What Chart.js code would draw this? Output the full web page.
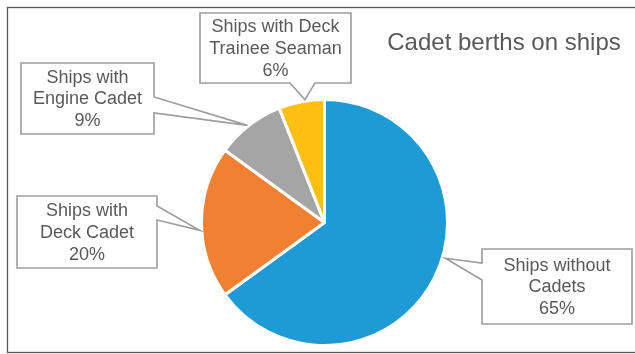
<!DOCTYPE html>
<html>
<head>
<meta charset="utf-8">
<script src="https://cdn.jsdelivr.net/npm/chart.js@4/dist/chart.umd.min.js"></script>
<style>
  html, body { margin: 0; padding: 0; background: #fff; }
  #wrap { width: 635px; height: 354px; position: relative; }
</style>
</head>
<body>
<div id="wrap"><canvas id="piechart"></canvas></div>
<script>
// data
const categories = [
    ['Ships without', 'Cadets'],
    ['Ships with', 'Deck Cadet'],
    ['Ships with', 'Engine Cadet'],
    ['Ships with Deck', 'Trainee Seaman']
];
const shares = [65, 20, 9, 6];
const colors = ['#1e9ad6', '#f28033', '#a5a5a5', '#fdbf12'];

// callout boxes: rect, the side carrying the pointer, pointer base along that side,
// and where on the slice (fraction of its angle) the pointer tip sits
const callouts = [
    { x: 482, y: 249, w: 150, h: 75, side: 'left',   b0: 14, b1: 31, frac: 0.455, gap: 3 },
    { x: 17,  y: 196, w: 140, h: 72, side: 'right',  b0: 10, b1: 24, frac: 0.45,  gap: 2 },
    { x: 21,  y: 63,  w: 133, h: 71, side: 'right',  b0: 34, b1: 50, frac: 0.48,  gap: 1 },
    { x: 200, y: 13,  w: 151, h: 70, side: 'bottom', b0: 90, b1: 115, frac: 0.58, gap: 1.5 }
];

const FONT = '"Liberation Sans", Arial, sans-serif';

const frame = {
    id: 'frame',
    beforeDraw(chart) {
        const ctx = chart.ctx;
        ctx.save();
        ctx.strokeStyle = '#595959';
        ctx.lineWidth = 1.3;
        ctx.strokeRect(7.5, 7.5, 640, 345);
        ctx.fillStyle = '#595959';
        ctx.font = '24px ' + FONT;
        ctx.textAlign = 'center';
        ctx.textBaseline = 'middle';
        ctx.fillText('Cadet berths on ships', 504, 43);
        ctx.restore();
    }
};

const calloutPlugin = {
    id: 'callouts',
    afterDatasetsDraw(chart) {
        const ctx = chart.ctx;
        const arcs = chart.getDatasetMeta(0).data;
        ctx.save();
        callouts.forEach((c, i) => {
            const arc = arcs[i];
            const a = arc.startAngle + c.frac * (arc.endAngle - arc.startAngle);
            const r = arc.outerRadius + c.gap;
            const tx = arc.x + r * Math.cos(a);
            const ty = arc.y + r * Math.sin(a);
            const L = c.x, T = c.y, R = c.x + c.w, B = c.y + c.h;

            ctx.beginPath();
            ctx.moveTo(L, T);
            ctx.lineTo(R, T);
            if (c.side === 'right') {
                ctx.lineTo(R, T + c.b0);
                ctx.lineTo(tx, ty);
                ctx.lineTo(R, T + c.b1);
            }
            ctx.lineTo(R, B);
            if (c.side === 'bottom') {
                ctx.lineTo(L + c.b1, B);
                ctx.lineTo(tx, ty);
                ctx.lineTo(L + c.b0, B);
            }
            ctx.lineTo(L, B);
            if (c.side === 'left') {
                ctx.lineTo(L, T + c.b1);
                ctx.lineTo(tx, ty);
                ctx.lineTo(L, T + c.b0);
            }
            ctx.closePath();
            ctx.fillStyle = '#ffffff';
            ctx.fill();
            ctx.strokeStyle = '#9d9d9d';
            ctx.lineWidth = 1.6;
            ctx.stroke();

            const lines = categories[i].concat([shares[i] + '%']);
            const lh = 21.7;
            const cx = L + c.w / 2;
            const cy = T + c.h / 2 + 1;
            ctx.fillStyle = '#595959';
            ctx.font = '18px ' + FONT;
            ctx.textAlign = 'center';
            ctx.textBaseline = 'middle';
            lines.forEach((ln, k) => {
                ctx.fillText(ln, cx, cy + (k - (lines.length - 1) / 2) * lh);
            });
        });
        ctx.restore();
    }
};

let chart1 = document.getElementById('piechart').getContext('2d');

let PieChart = new Chart(chart1, {
    type: 'pie',
    data: {
        labels: categories,
        datasets: [{
            data: shares,
            backgroundColor: colors,
            borderColor: '#ffffff',
            borderWidth: 3
        }]
    },
    options: {
        responsive: true,
        maintainAspectRatio: false,
        animation: false,
        events: [],
        layout: {
            padding: { top: 98, bottom: 7, left: 200, right: 186 }
        },
        plugins: {
            legend: { display: false },
            tooltip: { enabled: false },
            title: { display: false }
        }
    },
    plugins: [frame, calloutPlugin]
});
</script>
</body>
</html>
